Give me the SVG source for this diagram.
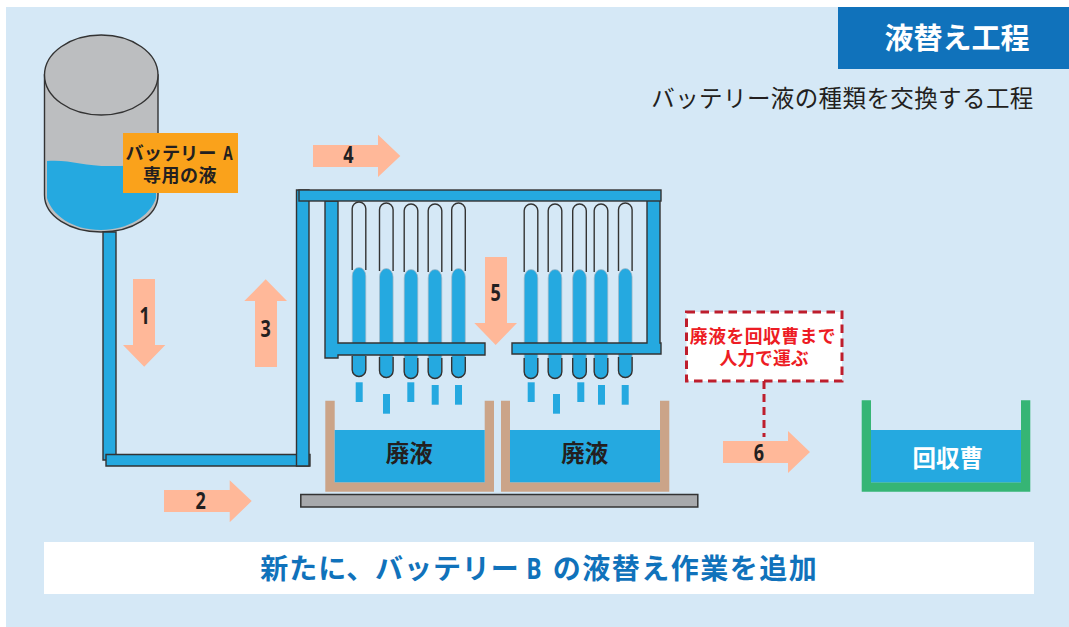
<svg xmlns="http://www.w3.org/2000/svg" width="1069" height="627" viewBox="0 0 1069 627">
<style>
text{font-family:"Noto Sans CJK JP","Noto Sans",sans-serif;text-anchor:middle}
.pipe{fill:#25a9e0;stroke:#333;stroke-width:1.4}
.water{fill:#25a9e0}
.tube{fill:none;stroke:#333;stroke-width:1.4}
.edge{fill:#25a9e0;stroke:#a9b8c4;stroke-width:.7}
.arrow{fill:#ffb899}
.num{font-family:"Open Sans",sans-serif;font-weight:700;font-size:22.5px;fill:#231f20}
.dark{fill:#231f20;font-weight:700}
.wood{fill:#cba488}
.lat{font-family:"Open Sans",sans-serif;font-weight:700}
</style>
<defs>
<g id="tube">
<path class="edge" d="M-6.800 168V74A6.800 8.500 0 0 1 6.800 74V168A6.800 6.800 0 0 1 -6.800 168Z"/>
<path class="tube" d="M-6.800 68V6.800A6.800 6.800 0 0 1 6.800 6.800V68"/>
<path class="tube" d="M-6.800 154V167.700A6.800 6.800 0 0 0 6.800 167.700V154"/>
</g>
<rect id="drop" class="water" width="7" height="19.700"/>
</defs>
<rect id="background" x="6" y="7" width="1063" height="620" fill="#d5e8f6"/>
<g id="header">
<rect x="838" y="7" width="231" height="62" fill="#1072bb"/>
<text x="957" y="49" font-size="29" font-weight="700" fill="#fff">液替え工程</text>
</g>
<text id="subtitle" x="842.500" y="107" font-size="23.500" fill="#231f20" letter-spacing="0.400">バッテリー液の種類を交換する工程</text>
<g id="tank">
<path d="M44.500 75V195C44.500 216 70 232 101 232S158 216 158 195V75Z" fill="#bcbec0" stroke="#333" stroke-width="1.400"/>
<path class="water" d="M47 161C70 159 85 167 115 166C130 166 145 164 156 163V198C150 216 128 230 101 230C72 230 52 215 47 198Z"/>
<ellipse cx="101.250" cy="75" rx="56.750" ry="40" fill="#bcbec0" stroke="#333" stroke-width="1.400"/>
</g>
<g id="connectors">
<path class="pipe" d="M103 232H116V460H103Z"/>
<path class="pipe" d="M106 454.500H310V466H106Z"/>
<path class="pipe" d="M296.500 190H309V466H296.500Z"/>
</g>
<g id="tubes">
<use href="#tube" x="359" y="202"/>
<use href="#tube" x="386.300" y="203"/>
<use href="#tube" x="411" y="204"/>
<use href="#tube" x="435" y="204"/>
<use href="#tube" x="458.500" y="203"/>
<use href="#tube" x="531" y="204"/>
<use href="#tube" x="555" y="204"/>
<use href="#tube" x="579.500" y="204"/>
<use href="#tube" x="601" y="204"/>
<use href="#tube" x="625.300" y="203"/>
</g>
<g id="manifold">
<path class="pipe" d="M325 201H338V343H485V355H338V358H325Z"/>
<path class="pipe" d="M647 200H660V343H661V354H512V343H647Z"/>
<rect class="pipe" x="299" y="190" width="362" height="11"/>
</g>
<g id="drops">
<use href="#drop" x="355.700" y="382.300"/>
<use href="#drop" x="383" y="394"/>
<use href="#drop" x="407.300" y="382.300"/>
<use href="#drop" x="431.700" y="385"/>
<use href="#drop" x="455" y="385"/>
<use href="#drop" x="527.700" y="382.300"/>
<use href="#drop" x="553" y="394"/>
<use href="#drop" x="577.300" y="382.300"/>
<use href="#drop" x="598" y="385"/>
<use href="#drop" x="621.700" y="385"/>
</g>
<g id="waste-tank-1">
<path class="wood" d="M325.300 400.700H334.700V482.300H484.700V400.700H494V491.700H325.300Z"/>
<rect class="water" x="334.700" y="430" width="150" height="52.300"/>
<text class="dark" x="409.300" y="462" font-size="23.500">廃液</text>
</g>
<g id="waste-tank-2">
<path class="wood" d="M501 400.700H510V482.300H660V400.700H669.300V491.700H501Z"/>
<rect class="water" x="510" y="430" width="150" height="52.300"/>
<text class="dark" x="584.700" y="462" font-size="23.500">廃液</text>
</g>
<rect id="platform" x="300.800" y="494.500" width="397" height="12.500" fill="#a7a9ac" stroke="#333" stroke-width="1.500"/>
<g id="recovery-tank">
<path d="M861.700 400.300H871V482.300H1021V400.300H1030.300V491.700H861.700Z" fill="#36b575"/>
<rect class="water" x="871" y="430" width="150" height="52.300"/>
<text x="947.700" y="467" font-size="23.500" font-weight="700" fill="#fff">回収曹</text>
</g>
<g id="label-a">
<rect x="123" y="133" width="115" height="60" fill="#faa21b"/>
<text class="dark" x="171" y="160" font-size="18.200">バッテリー</text>
<text class="dark lat" transform="translate(228 160) scale(.72 1)" font-size="19">A</text>
<text class="dark" x="180" y="181.500" font-size="18" letter-spacing="0.500">専用の液</text>
</g>
<g id="flow-arrows">
<g id="arrow-1"><path class="arrow" d="M133 279H155V345H165.300L144.200 366.700L123 345H133Z"/><text class="num" transform="translate(144.700 324) scale(.8 1)">1</text></g>
<g id="arrow-2"><path class="arrow" d="M164 490H229.700V480.300L251.700 501L229.700 522.300V512H164Z"/><text class="num" transform="translate(200.700 509) scale(.8 1)">2</text></g>
<g id="arrow-3"><path class="arrow" d="M255 367V301H244.300L265.700 279.300L287 301H277V367Z"/><text class="num" transform="translate(265.700 337) scale(.8 1)">3</text></g>
<g id="arrow-4"><path class="arrow" d="M313 145H378V134.700L400.300 156L378 177V167H313Z"/><text class="num" transform="translate(348.300 163) scale(.8 1)">4</text></g>
<g id="arrow-5"><path class="arrow" d="M485 257H507V323H517L495.700 345L474.300 323H485Z"/><text class="num" transform="translate(495.700 301) scale(.8 1)">5</text></g>
<g id="arrow-6"><path class="arrow" d="M723 441H788V431L810 452L788 473V463H723Z"/><text class="num" transform="translate(759 461) scale(.8 1)">6</text></g>
</g>
<g id="note">
<path d="M764 381V437" fill="none" stroke="#be1e2d" stroke-width="3" stroke-dasharray="8 5"/>
<rect x="686.500" y="312" width="155.500" height="69" fill="#fff" stroke="#be1e2d" stroke-width="3" stroke-dasharray="8.500 5.500"/>
<text x="763" y="343" font-size="17.800" font-weight="700" fill="#ed1c24" letter-spacing="0.500">廃液を回収曹まで</text>
<text x="764" y="365" font-size="17.800" font-weight="700" fill="#ed1c24">人力で運ぶ</text>
</g>
<g id="banner">
<rect x="44" y="542" width="990" height="52" fill="#fff"/>
<text x="390" y="578.500" font-size="28" font-weight="700" fill="#1072bb" letter-spacing="0.900">新たに、バッテリー</text>
<text class="lat" transform="translate(534 578.500) scale(.8 1)" font-size="28.500" fill="#1072bb">B</text>
<text x="685.500" y="578.500" font-size="28" font-weight="700" fill="#1072bb" letter-spacing="1.500">の液替え作業を追加</text>
</g>
</svg>
